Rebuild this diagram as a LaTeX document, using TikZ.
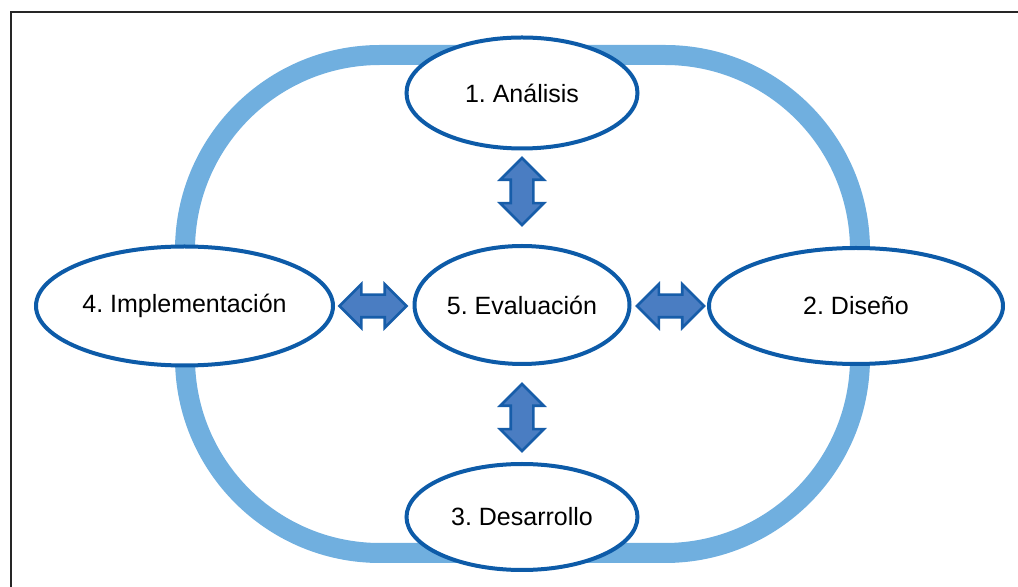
\documentclass[tikz,border=0pt]{standalone}
\usepackage{fontspec}
\setmainfont{Liberation Sans}
\usepackage{xcolor}
\usetikzlibrary{shapes.geometric, shapes.arrows, positioning}
\frenchspacing

\definecolor{ringblue}{HTML}{70AFDF}
\definecolor{edgeblue}{HTML}{0D5BA8}
\definecolor{arrowfill}{HTML}{4A7DC2}
\definecolor{arrowedge}{HTML}{175DA9}

\begin{document}
\begin{tikzpicture}[
    x=0.5pt, y=-0.5pt,
    phase/.style={ellipse, draw=edgeblue, line width=2pt, fill=white, inner sep=0pt, text centered, font=\fontsize{12.5}{15}\selectfont},
    dblarrow/.style={double arrow, draw=arrowedge, fill=arrowfill, line width=1.3pt, inner xsep=0pt, inner ysep=5pt, double arrow head extend=5.25pt, minimum height=33.5pt},
    ring/.style={ringblue, line width=10pt}
]
\useasboundingbox (0,0) rectangle (1018,587);

% Frame
\draw [black!85, line width=1pt] (11,587) -- (11,12.5) -- (1018,12.5);

% Cycle ring (corner radius in pt)
\draw [ring] (185,250) arc[start angle=180, end angle=90, radius=97.5pt]
    -- (665,55) arc[start angle=90, end angle=0, radius=97.5pt]
    -- (860,358) arc[start angle=0, end angle=-90, radius=97.5pt]
    -- (380,553) arc[start angle=-90, end angle=-180, radius=97.5pt]
    -- cycle;

% Phases
\node [phase, minimum width=115.5pt, minimum height=55.5pt] (analisis) at (522,93) {1. Análisis};
\node [phase, minimum width=107.5pt, minimum height=59pt] (evaluacion) at (522,305) {5. Evaluación};
\node [phase, minimum width=148.5pt, minimum height=59.5pt] (implementacion) at (184.5,306) {4. Implementación};
\node [phase, minimum width=147pt, minimum height=58pt] (diseno) at (856,306) {2. Diseño};
\node [phase, minimum width=115.5pt, minimum height=53pt] (desarrollo) at (522,517) {3. Desarrollo};

% Links to the evaluation
\node [dblarrow, rotate=90] (upperlink) at (522,191.5) {};
\node [dblarrow, rotate=90] (lowerlink) at (522,417.5) {};
\node [dblarrow] (leftlink) at (373,306) {};
\node [dblarrow] (rightlink) at (670.5,306) {};

\end{tikzpicture}
\end{document}
